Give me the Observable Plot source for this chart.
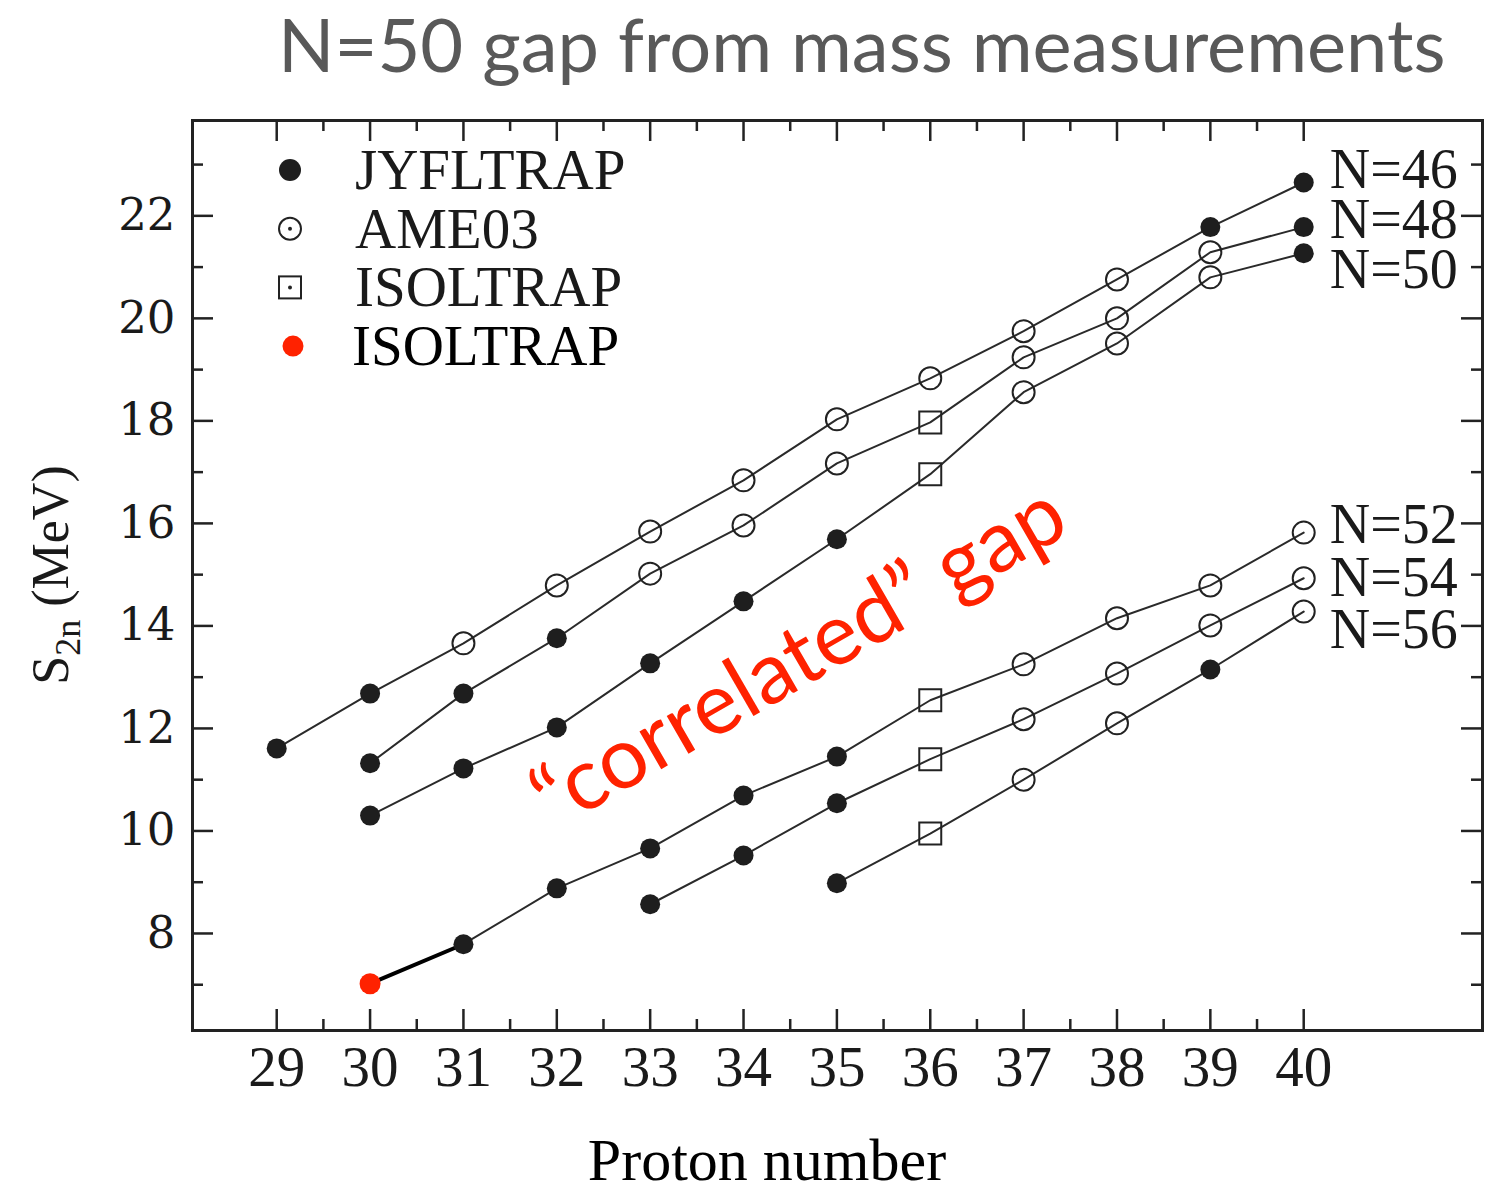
<!DOCTYPE html>
<html>
<head>
<meta charset="utf-8">
<script src="https://cdn.jsdelivr.net/npm/d3@7"></script>
<script src="https://cdn.jsdelivr.net/npm/@observablehq/plot@0.6"></script>
<style>
  html, body { margin: 0; padding: 0; background: #fff; }
  #title { height: 100px; line-height: 88px; padding-left: 278px; font-family: Lato, sans-serif; font-size: 74px; color: #595959; white-space: nowrap; }
</style>
</head>
<body>
<div id="title">N=50 gap from mass measurements</div>
<div id="chart"></div>
<script>
// ---------- data (S2n in MeV vs proton number Z) ----------
// method codes: J = JYFLTRAP, A = AME03, I = ISOLTRAP, R = ISOLTRAP (new, red)
const Z_N46 = [29, 30, 31, 32, 33, 34, 35, 36, 37, 38, 39, 40];
const S_N46 = [11.61, 12.68, 13.66, 14.79, 15.84, 16.84, 18.03, 18.83, 19.75, 20.76, 21.78, 22.65];
const M_N46 = ["J", "J", "A", "A", "A", "A", "A", "A", "A", "A", "J", "J"];

const Z_N48 = [30, 31, 32, 33, 34, 35, 36, 37, 38, 39, 40];
const S_N48 = [11.32, 12.68, 13.76, 15.02, 15.96, 17.17, 17.97, 19.24, 20.00, 21.29, 21.78];
const M_N48 = ["J", "J", "J", "A", "A", "A", "I", "A", "A", "A", "J"];

const Z_N50 = [30, 31, 32, 33, 34, 35, 36, 37, 38, 39, 40];
const S_N50 = [10.30, 11.22, 12.02, 13.27, 14.48, 15.69, 16.96, 18.56, 19.51, 20.80, 21.27];
const M_N50 = ["J", "J", "J", "J", "J", "J", "I", "A", "A", "A", "J"];

const Z_N52 = [30, 31, 32, 33, 34, 35, 36, 37, 38, 39, 40];
const S_N52 = [7.02, 7.79, 8.88, 9.66, 10.69, 11.45, 12.55, 13.25, 14.15, 14.79, 15.82];
const M_N52 = ["R", "J", "J", "J", "J", "J", "I", "A", "A", "A", "A"];

const Z_N54 = [33, 34, 35, 36, 37, 38, 39, 40];
const S_N54 = [8.57, 9.52, 10.54, 11.40, 12.18, 13.07, 14.01, 14.93];
const M_N54 = ["J", "J", "J", "I", "A", "A", "A", "A"];

const Z_N56 = [35, 36, 37, 38, 39, 40];
const S_N56 = [8.98, 9.95, 11.00, 12.10, 13.15, 14.28];
const M_N56 = ["J", "I", "A", "A", "J", "A"];

const seriesNames = ["N=46", "N=48", "N=50", "N=52", "N=54", "N=56"];
const labelS2n   = [22.89, 21.91, 20.94, 15.96, 14.93, 13.91];  // label heights (MeV)

const legendLabels = ["JYFLTRAP", "AME03", "ISOLTRAP", "ISOLTRAP"];
const legendCodes  = ["J", "A", "I", "R"];

const xTicks = [29, 30, 31, 32, 33, 34, 35, 36, 37, 38, 39, 40];
const xMinor = [29.5, 30.5, 31.5, 32.5, 33.5, 34.5, 35.5, 36.5, 37.5, 38.5, 39.5];
const yTicks = [8, 10, 12, 14, 16, 18, 20, 22];
const yMinor = [7, 9, 11, 13, 15, 17, 19, 21, 23];

const annotationText = "\u201Ccorrelated\u201D gap";
const annotationAt = {Z: 34.6, S: 13.38};

// ---------- build tables ----------
const allZ = [Z_N46, Z_N48, Z_N50, Z_N52, Z_N54, Z_N56];
const allS = [S_N46, S_N48, S_N50, S_N52, S_N54, S_N56];
const allM = [M_N46, M_N48, M_N50, M_N52, M_N54, M_N56];
const points = [];
seriesNames.forEach((name, k) => {
  allZ[k].forEach((z, i) => points.push({series: name, Z: z, S: allS[k][i], M: allM[k][i]}));
});
// regular connecting lines (N=52 starts at the JYFLTRAP point, the red segment is drawn thicker)
const linePts = points.filter(d => d.M !== "R");
const redIdx = points.findIndex(d => d.M === "R");
const thickSeg = [points[redIdx], points[redIdx + 1]];
const labels = seriesNames.map((name, k) => ({series: name, Z: allZ[k][allZ[k].length - 1], S: labelS2n[k]}));

const ink = "#222";
const serif = "'Liberation Serif', 'Times New Roman', serif";
const W = 1485, H = 1094;
const mT = 20, mB = 164, mL = 192, mR = 3;
const innerW = W - mL - mR, innerH = H - mT - mB;
const major = 21, minor = 11;

const legend = legendLabels.map((t, i) => ({label: t, code: legendCodes[i], i}));
const legendStep = 58.7;

const plot = Plot.plot({
  width: W, height: H,
  marginTop: mT, marginBottom: mB, marginLeft: mL, marginRight: mR,
  x: {domain: [28.098, 41.915]},
  y: {domain: [6.107, 23.86]},
  style: {fontFamily: serif, background: "#fff"},
  marks: [
    // axes (labels only, ticks drawn inward below)
    Plot.axisX({ticks: xTicks, tickSize: 0, tickPadding: 15, tickFormat: d => String(d), fontSize: 57, fontFamily: serif, fill: "#1a1a1a", label: null}),
    Plot.axisY({ticks: yTicks, tickSize: 0, tickPadding: 17, tickFormat: d => String(d), fontSize: 45, fontFamily: "'DejaVu Serif', serif", fill: "#1a1a1a", label: null}),
    // inward ticks: bottom / top
    Plot.tickX(xTicks, {x: d => d, insetTop: innerH - major, stroke: ink, strokeWidth: 2.5}),
    Plot.tickX(xMinor, {x: d => d, insetTop: innerH - minor, stroke: ink, strokeWidth: 2.5}),
    Plot.tickX(xTicks, {x: d => d, insetBottom: innerH - major, stroke: ink, strokeWidth: 2.5}),
    Plot.tickX(xMinor, {x: d => d, insetBottom: innerH - minor, stroke: ink, strokeWidth: 2.5}),
    // inward ticks: left / right
    Plot.tickY(yTicks, {y: d => d, insetRight: innerW - major, stroke: ink, strokeWidth: 2.5}),
    Plot.tickY(yMinor, {y: d => d, insetRight: innerW - minor, stroke: ink, strokeWidth: 2.5}),
    Plot.tickY(yTicks, {y: d => d, insetLeft: innerW - major, stroke: ink, strokeWidth: 2.5}),
    Plot.tickY(yMinor, {y: d => d, insetLeft: innerW - minor, stroke: ink, strokeWidth: 2.5}),
    Plot.frame({stroke: ink, strokeWidth: 3}),
    // lines
    Plot.line(linePts, {x: "Z", y: "S", z: "series", stroke: "#2a2a2a", strokeWidth: 2}),
    Plot.line(thickSeg, {x: "Z", y: "S", stroke: "#000", strokeWidth: 4}),
    // markers
    Plot.dot(points.filter(d => d.M === "J"), {x: "Z", y: "S", r: 10, fill: "#1e1e1e"}),
    Plot.dot(points.filter(d => d.M === "A"), {x: "Z", y: "S", r: 11, fill: "none", stroke: ink, strokeWidth: 2}),
    Plot.dot(points.filter(d => d.M === "I"), {x: "Z", y: "S", r: 12.4, symbol: "square", fill: "none", stroke: ink, strokeWidth: 2}),
    Plot.dot(points.filter(d => d.M === "R"), {x: "Z", y: "S", r: 10.5, fill: "#ff2200"}),
    // series labels
    Plot.text(labels, {x: "Z", y: "S", text: "series", dx: 26, textAnchor: "start", fontSize: 56, fontFamily: serif, fill: "#1a1a1a"}),
    // annotation
    Plot.text([annotationAt], {x: "Z", y: "S", text: () => annotationText, rotate: -30, fontSize: 86, fontFamily: "Lato, sans-serif", fill: "#ff2200"})
  ]
});

document.getElementById("chart").appendChild(plot);

// ---------- legend (drawn in frame coordinates with d3) ----------
const svg = d3.select(plot);
const lg = svg.append("g").attr("transform", `translate(${mL},${mT})`);
legend.forEach(d => {
  const cy = 50 + d.i * legendStep, cx = 98;
  if (d.code === "J") lg.append("circle").attr("cx", cx).attr("cy", cy).attr("r", 11).attr("fill", "#1e1e1e");
  if (d.code === "A") {
    lg.append("circle").attr("cx", cx).attr("cy", cy).attr("r", 11).attr("fill", "none").attr("stroke", ink).attr("stroke-width", 2);
    lg.append("circle").attr("cx", cx).attr("cy", cy).attr("r", 2).attr("fill", ink);
  }
  if (d.code === "I") {
    lg.append("rect").attr("x", cx - 11).attr("y", cy - 11).attr("width", 22).attr("height", 22).attr("fill", "none").attr("stroke", ink).attr("stroke-width", 2);
    lg.append("circle").attr("cx", cx).attr("cy", cy).attr("r", 2).attr("fill", ink);
  }
  if (d.code === "R") lg.append("circle").attr("cx", cx + 3).attr("cy", cy).attr("r", 10.5).attr("fill", "#ff2200");
  lg.append("text").attr("x", d.code === "R" ? 160 : 163).attr("y", cy).attr("dy", "0.33em")
    .attr("text-anchor", "start")
    .attr("font-family", serif).attr("font-size", 57).attr("fill", d.code === "R" ? "#000" : "#1a1a1a").text(d.label);
});

// axis titles
svg.append("text").attr("x", 767).attr("y", 1080).attr("text-anchor", "middle")
  .attr("font-family", serif).attr("font-size", 60).attr("fill", "#000").text("Proton number");
const yl = svg.append("text").attr("transform", "translate(68,475) rotate(-90)").attr("text-anchor", "middle")
  .attr("font-family", serif).attr("font-size", 52).attr("fill", "#1a1a1a");
yl.append("tspan").text("S");
yl.append("tspan").attr("font-size", 36).attr("dy", 12).text("2n");
yl.append("tspan").attr("dy", -12).text(" (MeV)");
</script>
</body>
</html>
